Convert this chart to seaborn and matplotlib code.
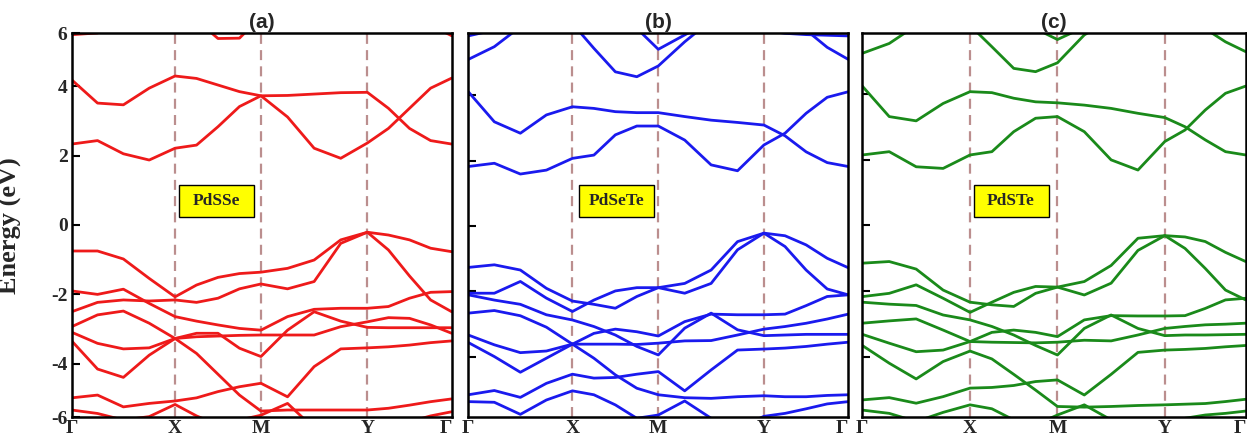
import numpy as np
import pandas as pd
import matplotlib
matplotlib.use("Agg")
import matplotlib.pyplot as plt
import seaborn as sns
from matplotlib.patches import Rectangle

sns.set_theme(style="ticks")
plt.rcParams['font.family'] = ['DejaVu Sans']

# ---------------- data ----------------
kpath_labels = ["Γ", "X", "M", "Y", "Γ"]
kpts_a = [0.0, 0.272, 0.498, 0.778, 1.0]
kpts_b = [0.0, 0.274, 0.500, 0.778, 1.0]
kpts_c = [0.0, 0.281, 0.509, 0.789, 1.0]

# energies (eV) sampled at 4 equal steps along each path segment (17 values per band)
a_U  = [5.48, 5.53, 5.90, 6.30, 6.50, 5.90, 5.37, 5.38, 6.00, 6.50, 6.60, 6.60, 6.60, 6.40, 6.10, 5.75, 5.45]
a_C1 = [4.18, 3.51, 3.46, 3.94, 4.29, 4.22, 4.03, 3.84, 3.72, 3.73, 3.77, 3.81, 3.82, 3.36, 2.78, 2.43, 2.33]
a_C0 = [2.33, 2.43, 2.05, 1.87, 2.21, 2.30, 2.83, 3.41, 3.72, 3.11, 2.21, 1.92, 2.36, 2.78, 3.36, 3.94, 4.23]
a_V1 = [-0.75, -0.75, -0.98, -1.54, -2.07, -1.73, -1.51, -1.40, -1.36, -1.25, -1.01, -0.43, -0.21, -0.29, -0.43, -0.67, -0.77]
a_V2 = [-2.50, -2.23, -2.16, -2.19, -2.16, -2.23, -2.11, -1.84, -1.70, -1.84, -1.63, -0.53, -0.21, -0.72, -1.47, -2.16, -2.50]
a_V3 = [-1.90, -2.00, -1.85, -2.26, -2.64, -2.77, -2.88, -2.98, -3.03, -2.64, -2.43, -2.40, -2.40, -2.35, -2.11, -1.94, -1.92]
a_V4 = [-3.09, -3.41, -3.57, -3.54, -3.27, -3.12, -3.12, -3.55, -3.79, -3.03, -2.50, -2.77, -2.95, -2.96, -2.96, -2.96, -2.96]
a_V5 = [-2.93, -2.59, -2.48, -2.83, -3.27, -3.22, -3.20, -3.18, -3.17, -3.17, -3.17, -2.93, -2.79, -2.67, -2.69, -2.88, -3.12]
a_V6 = [-3.34, -4.15, -4.39, -3.75, -3.27, -3.70, -4.30, -4.90, -5.36, -5.33, -5.33, -5.33, -5.33, -5.28, -5.19, -5.09, -5.01]
a_V7 = [-4.98, -4.90, -5.24, -5.14, -5.07, -4.98, -4.80, -4.66, -4.56, -4.95, -4.08, -3.57, -3.54, -3.51, -3.46, -3.39, -3.34]
a_V8 = [-5.33, -5.43, -5.62, -5.52, -5.17, -5.50, -5.76, -5.62, -5.48, -5.14, -5.86, -6.24, -6.05, -5.86, -5.67, -5.50, -5.38]

b_U1 = [5.10, 5.49, 6.10, 6.50, 6.70, 6.70, 6.70, 6.70, 6.70, 6.70, 6.70, 6.70, 6.70, 6.50, 6.00, 5.47, 5.10]
b_U2 = [6.80, 6.80, 6.70, 6.40, 6.20, 5.44, 4.72, 4.57, 4.90, 5.64, 6.30, 6.60, 6.80, 6.80, 6.80, 6.80, 6.80]
b_U3 = [6.90, 6.90, 6.90, 6.90, 6.90, 6.70, 6.30, 6.05, 5.41, 5.85, 6.30, 6.60, 6.90, 6.90, 6.90, 6.90, 6.90]
b_U4 = [5.82, 6.00, 6.30, 6.60, 6.80, 6.90, 6.90, 6.90, 6.90, 6.90, 6.90, 6.60, 6.00, 5.90, 5.86, 5.84, 5.82]
b_C1 = [4.11, 3.19, 2.84, 3.40, 3.65, 3.60, 3.50, 3.47, 3.47, 3.35, 3.24, 3.17, 3.09, 2.76, 2.27, 1.94, 1.82]
b_C0 = [1.82, 1.92, 1.59, 1.71, 2.07, 2.17, 2.79, 3.06, 3.06, 2.63, 1.87, 1.69, 2.48, 2.84, 3.45, 3.94, 4.11]
b_V1 = [-1.27, -1.19, -1.35, -1.91, -2.30, -2.40, -2.52, -2.16, -1.89, -1.76, -1.35, -0.48, -0.22, -0.30, -0.58, -0.99, -1.28]
b_V2 = [-2.06, -2.06, -1.70, -2.21, -2.62, -2.27, -1.99, -1.89, -1.89, -2.06, -1.76, -0.73, -0.22, -0.63, -1.35, -1.93, -2.11]
b_V3 = [-2.11, -2.27, -2.40, -2.72, -2.88, -3.08, -3.34, -3.69, -3.95, -3.13, -2.67, -3.18, -3.36, -3.34, -3.32, -3.32, -3.32]
b_V4 = [-2.67, -2.59, -2.75, -3.10, -3.62, -3.29, -3.16, -3.24, -3.37, -2.93, -2.70, -2.72, -2.72, -2.70, -2.44, -2.16, -2.11]
b_V5 = [-3.34, -3.64, -3.88, -3.83, -3.62, -3.62, -3.62, -3.63, -3.59, -3.52, -3.51, -3.34, -3.16, -3.08, -2.98, -2.85, -2.70]
b_V6 = [-3.57, -4.00, -4.48, -4.05, -3.62, -4.05, -4.56, -4.97, -5.17, -5.26, -5.28, -5.23, -5.20, -5.23, -5.23, -5.19, -5.17]
b_V7 = [-5.17, -5.04, -5.25, -4.82, -4.54, -4.66, -4.64, -4.54, -4.46, -5.05, -4.41, -3.80, -3.77, -3.74, -3.69, -3.62, -3.56]
b_V8 = [-5.38, -5.40, -5.77, -5.33, -5.05, -5.17, -5.48, -5.89, -5.79, -5.36, -5.89, -6.20, -5.83, -5.74, -5.60, -5.45, -5.38]

c_U1 = [5.25, 5.55, 6.10, 6.50, 6.70, 6.70, 6.70, 6.70, 6.70, 6.70, 6.70, 6.70, 6.70, 6.50, 6.00, 5.60, 5.30]
c_U2 = [6.80, 6.80, 6.60, 6.30, 6.10, 5.45, 4.79, 4.69, 4.96, 5.81, 6.30, 6.60, 6.80, 6.80, 6.80, 6.80, 6.80]
c_U3 = [6.90, 6.90, 6.90, 6.90, 6.90, 6.70, 6.30, 6.00, 5.67, 6.05, 6.50, 6.90, 6.90, 6.90, 6.90, 6.90, 6.90]
c_C1 = [4.25, 3.32, 3.19, 3.72, 4.08, 4.05, 3.88, 3.77, 3.74, 3.67, 3.57, 3.42, 3.29, 3.01, 2.61, 2.25, 2.15]
c_C0 = [2.15, 2.25, 1.79, 1.74, 2.15, 2.25, 2.86, 3.27, 3.32, 2.86, 2.00, 1.69, 2.56, 2.91, 3.52, 4.03, 4.25]
c_V1 = [-1.15, -1.10, -1.33, -1.97, -2.34, -2.42, -2.47, -2.07, -1.88, -1.71, -1.22, -0.39, -0.31, -0.35, -0.49, -0.82, -1.10]
c_V2 = [-2.17, -2.07, -1.81, -2.22, -2.65, -2.34, -2.04, -1.86, -1.88, -2.12, -1.76, -0.76, -0.31, -0.70, -1.31, -1.97, -2.27]
c_V3 = [-2.34, -2.40, -2.44, -2.73, -2.88, -3.08, -3.34, -3.66, -3.95, -3.14, -2.73, -3.14, -3.36, -3.34, -3.34, -3.33, -3.32]
c_V4 = [-2.98, -2.91, -2.85, -3.19, -3.54, -3.26, -3.19, -3.26, -3.39, -2.88, -2.75, -2.76, -2.76, -2.75, -2.53, -2.27, -2.22]
c_V5 = [-3.32, -3.59, -3.85, -3.80, -3.54, -3.56, -3.57, -3.58, -3.56, -3.50, -3.52, -3.34, -3.14, -3.08, -3.03, -3.01, -2.98]
c_V6 = [-3.66, -4.20, -4.68, -4.15, -3.83, -4.07, -4.54, -5.02, -5.52, -5.54, -5.52, -5.49, -5.47, -5.45, -5.43, -5.37, -5.30]
c_V7 = [-5.32, -5.25, -5.42, -5.22, -4.96, -4.94, -4.88, -4.76, -4.71, -5.17, -4.54, -3.87, -3.80, -3.78, -3.75, -3.70, -3.66]
c_V8 = [-5.63, -5.73, -5.98, -5.70, -5.47, -5.59, -5.93, -6.08, -5.78, -5.47, -5.93, -6.18, -6.03, -5.88, -5.78, -5.73, -5.66]

panel_titles = ["(a)", "(b)", "(c)"]
materials = ["PdSSe", "PdSeTe", "PdSTe"]
band_colors = ["#ee1a1a", "#1a1aee", "#1a8a1a"]
ylims = [(-5.54, 5.52), (-5.86, 5.90), (-5.85, 5.86)]

bands_a = [a_U, a_C1, a_C0, a_V1, a_V2, a_V3, a_V4, a_V5, a_V6, a_V7, a_V8]
bands_b = [b_U1, b_U2, b_U3, b_U4, b_C1, b_C0, b_V1, b_V2, b_V3, b_V4, b_V5, b_V6, b_V7, b_V8]
bands_c = [c_U1, c_U2, c_U3, c_C1, c_C0, c_V1, c_V2, c_V3, c_V4, c_V5, c_V6, c_V7, c_V8]


def kgrid(kpts):
    parts = [np.linspace(kpts[i], kpts[i + 1], 5)[:-1] for i in range(len(kpts) - 1)]
    return np.concatenate(parts + [np.array([kpts[-1]])])


def to_frame(kpts, bands):
    k = kgrid(kpts)
    rows = []
    for bi, e in enumerate(bands):
        for kk, ee in zip(k, e):
            rows.append({"k": kk, "E": ee, "band": bi})
    return pd.DataFrame(rows)


panels = [(kpts_a, bands_a), (kpts_b, bands_b), (kpts_c, bands_c)]

# ---------------- figure ----------------
fig = plt.figure(figsize=(12.47, 4.41), dpi=100)
W, H = 1247.0, 441.0
axes_rects = [
    [71.7 / W, 23.7 / H, 380.0 / W, 384.0 / H],
    [468.3 / W, 23.7 / H, 380.0 / W, 384.0 / H],
    [862.3 / W, 23.7 / H, 383.4 / W, 384.0 / H],
]
box_centers = [(0.380, 0.563), (0.389, 0.563), (0.388, 0.563)]

serif = "Liberation Serif"
sans = "Liberation Sans"

for i, (kpts, bands) in enumerate(panels):
    ax = fig.add_axes(axes_rects[i])
    df = to_frame(kpts, bands)
    for kv in kpts[1:-1]:
        ax.axvline(kv, color="#bb8e8e", lw=1.6, ls=(0, (4.5, 2.8)), zorder=1)
    sns.lineplot(data=df, x="k", y="E", units="band", estimator=None, sort=False,
                 color=band_colors[i], lw=2.0, ax=ax, legend=False, zorder=3,
                 solid_joinstyle="round", solid_capstyle="round")
    ax.set_xlim(0, 1)
    ax.set_ylim(*ylims[i])
    ax.set_xlabel("")
    ax.set_ylabel("")
    ax.set_xticks(kpts)
    ax.set_xticklabels(kpath_labels, fontsize=14, fontweight="bold", family=serif)
    ax.get_xticklabels()[-1].set_ha("right")
    ax.tick_params(axis="x", length=0, pad=2)
    if i == 0:
        lo, hi = ylims[i]
        ax.set_yticks([lo, -4, -2, 0, 2, 4, hi])
        ax.set_yticklabels(["-6", "-4", "-2", "0", "2", "4", "6"], fontsize=14,
                           fontweight="bold", family=serif)
        ax.set_ylabel("Energy (eV)", fontsize=19, fontweight="bold", family=serif)
        ax.yaxis.set_label_coords(-0.13, 0.5)
    else:
        ax.set_yticks([-4, -2, 0, 2, 4])
        ax.tick_params(axis="y", labelleft=False)
    ax.tick_params(axis="y", direction="in", length=6, width=1.5, pad=3,
                   left=True, right=False, color="black")
    for sp in ax.spines.values():
        sp.set_color("black")
        sp.set_linewidth(1.8)
        sp.set_zorder(6)
    ax.set_title(panel_titles[i], fontsize=15, fontweight="bold", family=sans, pad=4)

    cx, cy = box_centers[i]
    bw = 75.0 / (axes_rects[i][2] * W)
    bh = 32.0 / 384.0
    ax.add_patch(Rectangle((cx - bw / 2, cy - bh / 2), bw, bh, transform=ax.transAxes,
                           facecolor="#ffff00", edgecolor="black", lw=1.0, zorder=7))
    ax.text(cx, cy, materials[i], transform=ax.transAxes, ha="center", va="center",
            fontsize=12.5, fontweight="bold", family=serif, zorder=8)

fig.savefig("out.png", dpi=100)
